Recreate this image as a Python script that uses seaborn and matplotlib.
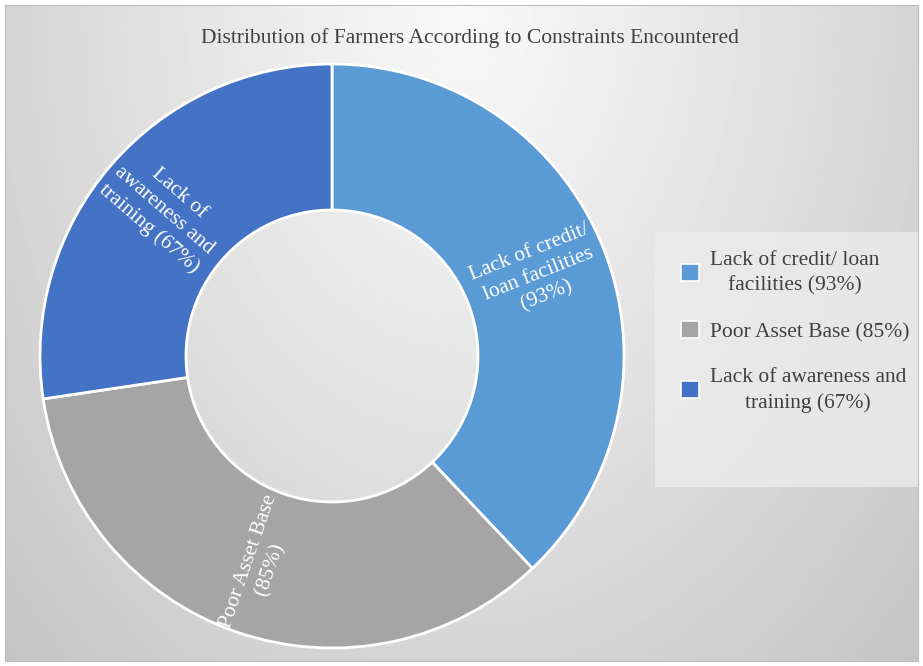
import numpy as np
import matplotlib
matplotlib.use("Agg")
import matplotlib.pyplot as plt
from matplotlib.patches import Rectangle
import seaborn as sns

# Survey results: share of farmers reporting each constraint
categories = ["Lack of credit/ loan facilities", "Poor Asset Base", "Lack of awareness and training"]
percentages = [93, 85, 67]
wedge_texts = ["Lack of credit/\nloan facilities\n({}%)", "Poor Asset Base\n({}%)",
               "Lack of\nawareness and\ntraining ({}%)"]
legend_texts = ["Lack of credit/ loan\nfacilities ({}%)", "Poor Asset Base ({}%)",
                "Lack of awareness and\ntraining ({}%)"]
title = "Distribution of Farmers According to Constraints Encountered"

sns.set_theme(style="white")
plt.rcParams["font.family"] = ["Liberation Serif", "DejaVu Serif"]
palette = sns.color_palette(["#5B9BD5", "#A5A5A5", "#4472C4"])

W, H = 923, 666
fig = plt.figure(figsize=(W / 100, H / 100), dpi=100)
fig.patch.set_facecolor("white")

# Radial grey backdrop of the chart area
bg = fig.add_axes([5 / W, 5 / H, 913 / W, 656 / H])
ny, nx = 400, 560
yy, xx = np.mgrid[0:ny, 0:nx]
u = (xx / (nx - 1) - 0.5) / 0.5
v = yy / (ny - 1)
d = np.sqrt(u ** 2 + v ** 2) / np.sqrt(2)
shade = 0.975 - 0.205 * np.clip(d, 0, 1) ** 1.1
bg.imshow(shade, cmap="gray", vmin=0, vmax=1, aspect="auto", interpolation="bilinear",
          extent=(0, 1, 0, 1))
bg.set_xticks([])
bg.set_yticks([])
for s in bg.spines.values():
    s.set_color("#bdbdbd")
    s.set_linewidth(0.8)

# Doughnut
cx, cy, R = 332, 356, 292
ax = fig.add_axes([(cx - R) / W, (H - cy - R) / H, 2 * R / W, 2 * R / H])
ax.set_facecolor("none")
wedges, _ = ax.pie(percentages, colors=palette, startangle=90, counterclock=False,
                   radius=1.0, wedgeprops=dict(width=0.5, edgecolor="white", linewidth=2))
ax.set_xlim(-1.0, 1.0)
ax.set_ylim(-1.0, 1.0)
ax.set_aspect("equal")
ax.axis("off")

# Rotated in-ring labels (radial reading direction)
label_radius = 0.76
for w, txt, pct in zip(wedges, wedge_texts, percentages):
    mid = (w.theta1 + w.theta2) / 2.0
    mid_n = (mid + 180) % 360 - 180
    rot = mid_n if -90 <= mid_n <= 90 else mid_n - 180
    if rot < -180:
        rot += 360
    ang = np.radians(mid)
    ax.text(label_radius * np.cos(ang), label_radius * np.sin(ang), txt.format(pct),
            color="white", fontsize=15.5, ha="center", va="center", rotation=rot,
            rotation_mode="anchor", multialignment="center", linespacing=1.3)

# Title
fig.text(470 / W, 1 - 38 / H, title, ha="center", va="center", fontsize=15.5, color="#404040")

# Legend panel
fig.patches.append(Rectangle((655 / W, (H - 487) / H), 263 / W, 255 / H,
                             transform=fig.transFigure, facecolor="#ececec",
                             edgecolor="none", alpha=0.8, zorder=1))
leg = fig.legend(wedges, [t.format(p) for t, p in zip(legend_texts, percentages)],
                 loc="upper left", bbox_to_anchor=(666 / W, 1 - 236 / H),
                 frameon=False, fontsize=15.5, handlelength=0.85, handleheight=0.85,
                 handletextpad=0.5, labelspacing=1.2, borderpad=0.2)
for t in leg.get_texts():
    t.set_multialignment("center")
    t.set_color("#404040")
    t.set_linespacing(1.4)
for h in leg.legend_handles:
    h.set_edgecolor("white")
    h.set_linewidth(1.2)

fig.savefig("out.png", dpi=100)
